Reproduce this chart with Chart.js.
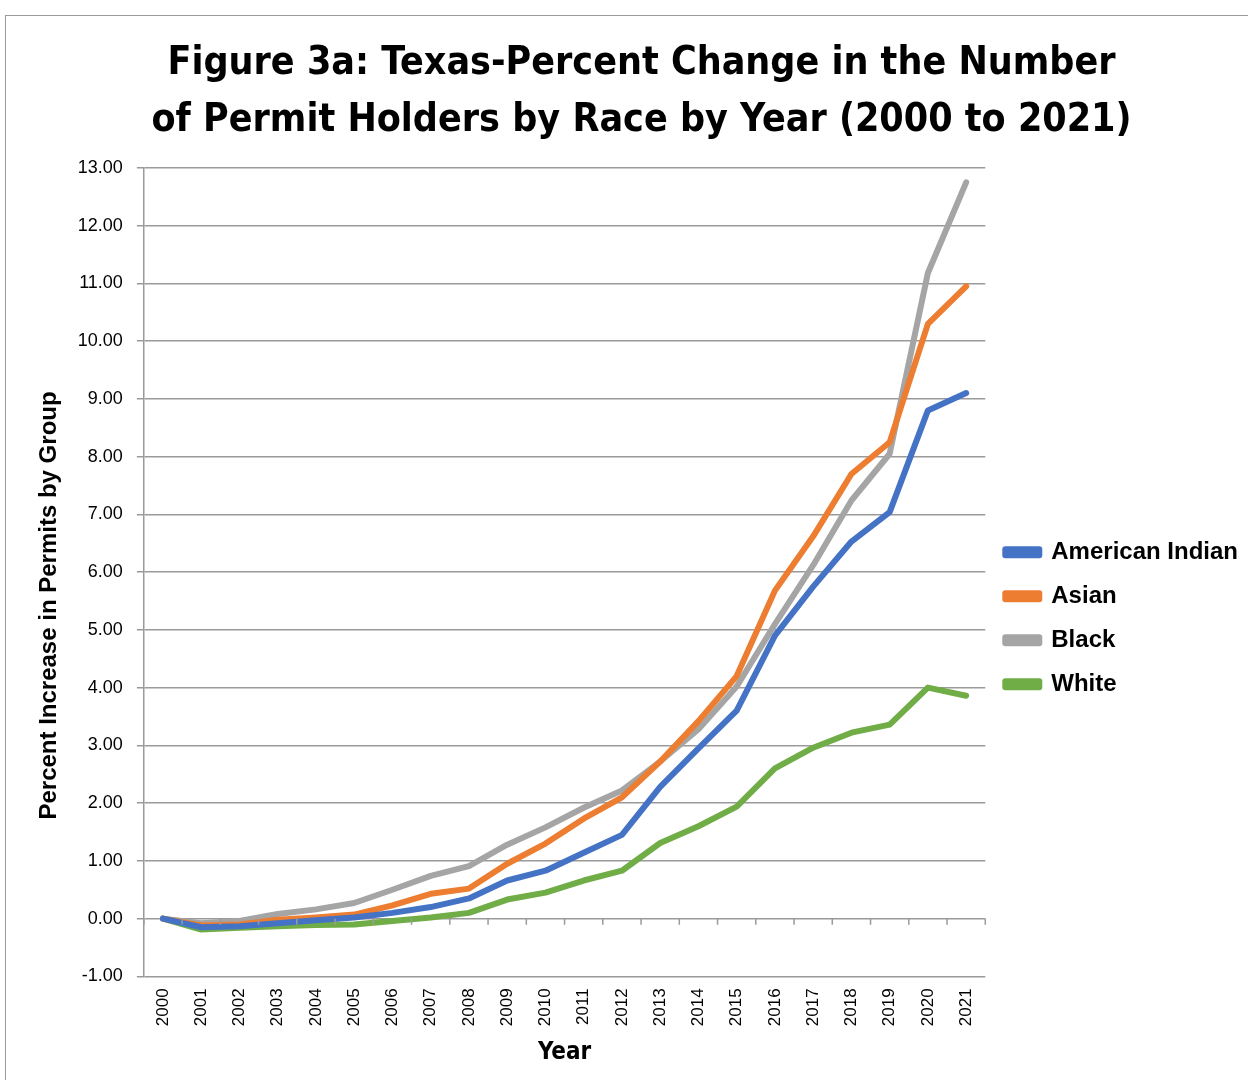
<!DOCTYPE html>
<html lang="en">
<head>
  <meta charset="UTF-8">
  <title>Figure 3a: Texas Permit Holders by Race</title>
  <script src="https://cdn.jsdelivr.net/npm/chart.js"></script>
  <style>
    html, body { margin: 0; padding: 0; background: #fff; overflow: hidden; }
    #frame { position: absolute; left: 5px; top: 15px; width: 1400px; height: 1200px; border: 1.5px solid #9a9a9a; pointer-events: none; }
    #chart { position: absolute; left: 0; top: 0; }
  </style>
</head>
<body>
  <canvas id="chart" width="1248" height="1080"></canvas>
  <div id="frame"></div>

  <script>
    // data
    const years = ['2000','2001','2002','2003','2004','2005','2006','2007','2008','2009','2010',
                   '2011','2012','2013','2014','2015','2016','2017','2018','2019','2020','2021'];
    const americanIndian = [0, -0.15, -0.13, -0.08, -0.03, 0.02, 0.10, 0.20, 0.35, 0.66, 0.83,
                            1.14, 1.45, 2.28, 2.95, 3.60, 4.90, 5.75, 6.53, 7.04, 8.80, 9.10];
    const asian = [0, -0.12, -0.10, -0.02, 0.02, 0.07, 0.23, 0.43, 0.52, 0.95, 1.30,
                   1.73, 2.10, 2.72, 3.42, 4.20, 5.68, 6.62, 7.70, 8.25, 10.30, 10.95];
    const black = [0, -0.08, -0.04, 0.08, 0.16, 0.27, 0.50, 0.74, 0.91, 1.28, 1.58,
                   1.92, 2.22, 2.72, 3.28, 4.02, 5.10, 6.12, 7.24, 8.05, 11.18, 12.75];
    const white = [0, -0.19, -0.16, -0.13, -0.11, -0.10, -0.04, 0.02, 0.10, 0.33, 0.45,
                   0.66, 0.83, 1.31, 1.60, 1.94, 2.60, 2.96, 3.22, 3.36, 4.00, 3.86];

    const seriesNames = ['American Indian', 'Asian', 'Black', 'White'];
    const seriesColors = ['#4472C4', '#ED7D31', '#A5A5A5', '#70AD47'];

    const narrow = "'Liberation Sans Narrow', 'DejaVu Sans Condensed', 'Liberation Sans', sans-serif";
    const plain = "'Liberation Sans', Arial, sans-serif";

    // small tick marks on the zero line between categories (Excel style axis crossing)
    const zeroAxisTicks = {
      id: 'zeroAxisTicks',
      afterDatasetsDraw(chart) {
        const { ctx, scales: { x, y } } = chart;
        const y0 = y.getPixelForValue(0);
        const half = (x.getPixelForValue(1) - x.getPixelForValue(0)) / 2;
        ctx.save();
        ctx.strokeStyle = '#9a9a9a';
        ctx.lineWidth = 1.5;
        ctx.beginPath();
        for (let i = 0; i <= years.length; i++) {
          const px = x.getPixelForValue(0) - half + i * half * 2;
          ctx.moveTo(px, y0);
          ctx.lineTo(px, y0 + 6);
        }
        ctx.stroke();
        ctx.restore();
      }
    };

    const allSeries = [americanIndian, asian, black, white];

    new Chart(document.getElementById('chart'), {
      type: 'line',
      data: {
        labels: years,
        datasets: allSeries.map((d, i) => ({
          label: seriesNames[i],
          data: d,
          borderColor: seriesColors[i],
          backgroundColor: seriesColors[i],
          borderWidth: 6,
          pointRadius: 0,
          tension: 0,
          borderJoinStyle: 'round',
          borderCapStyle: 'round'
        }))
      },
      options: {
        responsive: false,
        animation: false,
        layout: { padding: { top: 35, left: 35, right: 0, bottom: 13 } },
        plugins: {
          title: {
            display: true,
            text: ['Figure 3a: Texas-Percent Change in the Number',
                   'of Permit Holders by Race by Year (2000 to 2021)'],
            color: '#000',
            font: { family: narrow, size: 39, weight: 'bold', lineHeight: 1.46 },
            padding: { top: 0, bottom: 19 }
          },
          legend: {
            position: 'right',
            align: 'center',
            title: { display: true, text: ' ', padding: { top: 0, bottom: 120 } },
            labels: {
              boxWidth: 34,
              boxHeight: 6,
              padding: 20,
              color: '#000',
              font: { family: plain, size: 24, weight: 'bold' }
            }
          },
          tooltip: { enabled: false }
        },
        scales: {
          x: {
            offset: true,
            grid: { display: false, drawTicks: false, offset: true },
            border: { display: false },
            ticks: {
              color: '#000',
              minRotation: 90,
              maxRotation: 90,
              padding: 12,
              font: { family: plain, size: 17 }
            },
            title: {
              display: true,
              text: 'Year',
              color: '#000',
              font: { family: narrow, size: 24, weight: 'bold' },
              padding: { top: 0, bottom: 0 }
            }
          },
          y: {
            min: -1,
            max: 13,
            ticks: {
              stepSize: 1,
              color: '#000',
              padding: 14,
              font: { family: plain, size: 18 },
              callback: v => v.toFixed(2)
            },
            grid: { color: '#9a9a9a', lineWidth: 1.5, tickLength: 7 },
            border: { color: '#9a9a9a', width: 1.5 },
            title: {
              display: true,
              // trailing spaces push the centred title down, as in the source figure
              text: 'Percent Increase in Permits by Group          ',
              color: '#000',
              font: { family: plain, size: 24, weight: 'bold' },
              padding: { top: 0, bottom: 0 }
            }
          }
        }
      },
      plugins: [zeroAxisTicks]
    });
  </script>
</body>
</html>
